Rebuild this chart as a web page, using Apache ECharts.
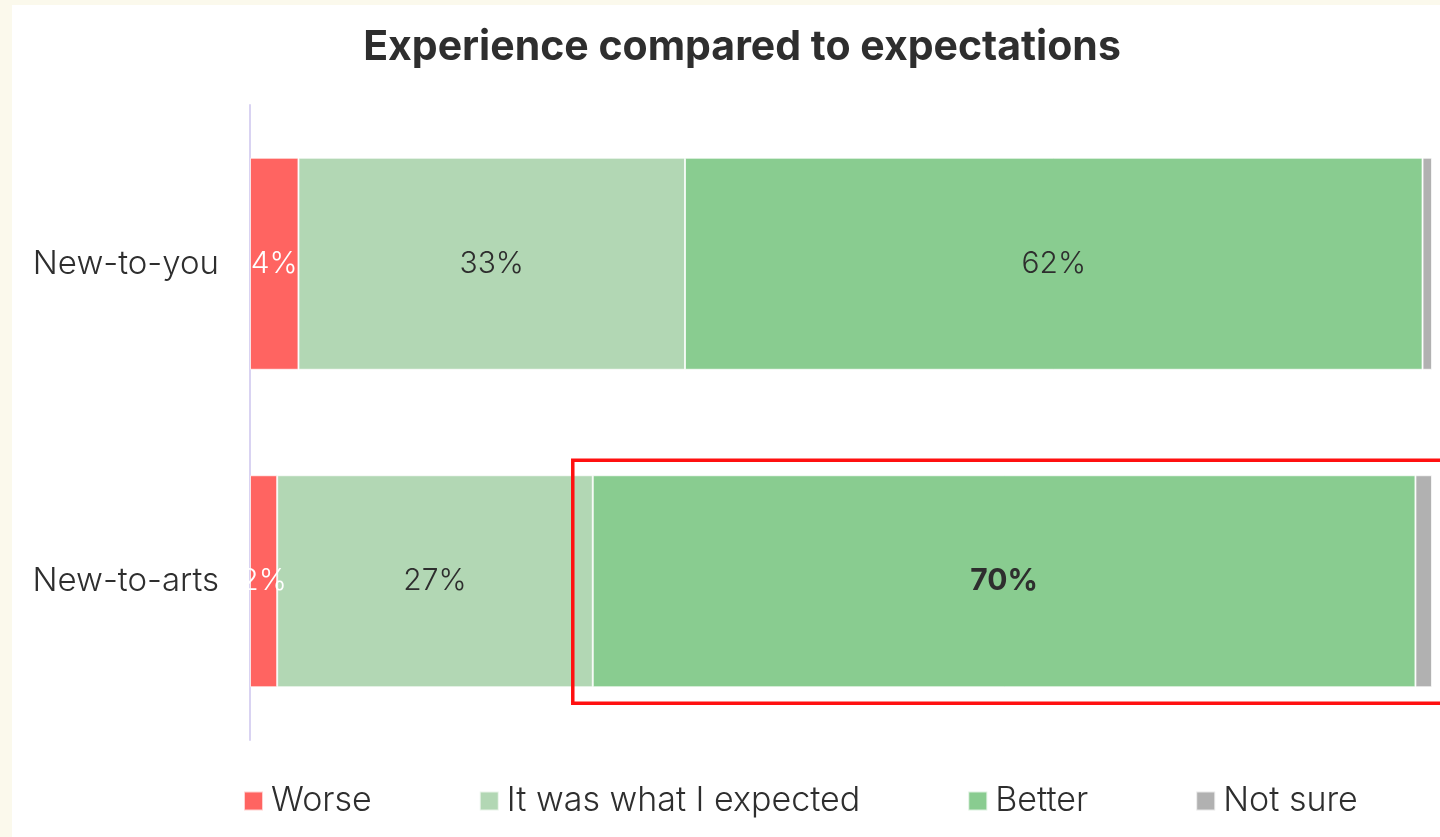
<!DOCTYPE html>
<html>
<head>
<meta charset="utf-8">
<script src="https://cdn.jsdelivr.net/npm/echarts@6/dist/echarts.min.js"></script>
<style>
  html, body { margin: 0; padding: 0; background: #fbf9ec; }
  #chart { width: 1440px; height: 837px; }
</style>
</head>
<body>
<div id="chart"></div>
<script>
const categories = ['New-to-you', 'New-to-arts'];
const seriesNames = ['Worse', 'It was what I expected', 'Better', 'Not sure'];
const worse = [4.1, 2.3];
const expected = [32.7, 26.7];
const better = [62.4, 69.6];
const notSure = [0.8, 1.4];
const colors = ['#ff6461', '#b2d7b4', '#89cc90', '#b1b1b1'];

const FONT = 'Inter';
const TEXT = '#2e2e2e';

const chart = echarts.init(document.getElementById('chart'));

const mkSeries = (name, data, color, labelColor, showLabel) => ({
  name: name,
  type: 'bar',
  stack: 'all',
  data: data,
  barWidth: 212,
  itemStyle: { color: color, borderColor: 'rgba(255,255,255,0.7)', borderWidth: 1 },
  label: {
    show: showLabel,
    position: 'inside',
    color: labelColor,
    fontFamily: FONT,
    fontSize: 30,
    fontWeight: 300,
    formatter: (p) => Math.round(p.value) + '%',
  },
});

const series = [
  mkSeries(seriesNames[0], worse, colors[0], '#ffffff', true),
  mkSeries(seriesNames[1], expected, colors[1], TEXT, true),
  mkSeries(seriesNames[2], better.map((v, i) => i === 1
    ? { value: v, label: { fontWeight: 'bold' } } : v), colors[2], TEXT, true),
  mkSeries(seriesNames[3], notSure, colors[3], TEXT, false),
];

chart.setOption({
  backgroundColor: '#fbf9ec',
  animation: false,
  title: {
    text: 'Experience compared to expectations',
    left: 737,
    textAlign: 'center',
    top: 22,
    textStyle: { fontFamily: FONT, fontSize: 41, fontWeight: 'bold', color: TEXT },
  },
  legend: {
    bottom: 14,
    left: 238,
    itemWidth: 19,
    itemHeight: 19,
    itemGap: 107,
    icon: 'rect',
    textStyle: { fontFamily: FONT, fontSize: 34, fontWeight: 300, color: TEXT, padding: [0, 0, 0, 3] },
    data: seriesNames,
  },
  grid: { left: 250, right: 8, top: 105, bottom: 97 },
  xAxis: {
    type: 'value',
    min: 0,
    max: 100,
    show: false,
  },
  yAxis: {
    type: 'category',
    data: categories,
    inverse: true,
    axisLine: { show: true, lineStyle: { color: '#d9d3f2', width: 2 } },
    axisTick: { show: false },
    axisLabel: { fontFamily: FONT, fontSize: 33, fontWeight: 300, color: TEXT, margin: 31 },
  },
  series: series,
});

// white panel and highlight box
const left = chart.convertToPixel({ gridIndex: 0 }, [worse[1] + expected[1], categories[1]]);
chart.setOption({
  graphic: [
    { type: 'rect', z: -10, shape: { x: 12, y: 5, width: 1440, height: 840 }, style: { fill: '#ffffff' } },
    { type: 'rect', z: 100, shape: { x: left[0] - 20, y: left[1] - 121, width: 900, height: 243 },
      style: { fill: 'none', stroke: '#ff1010', lineWidth: 3.5 } },
  ],
});
</script>
</body>
</html>
